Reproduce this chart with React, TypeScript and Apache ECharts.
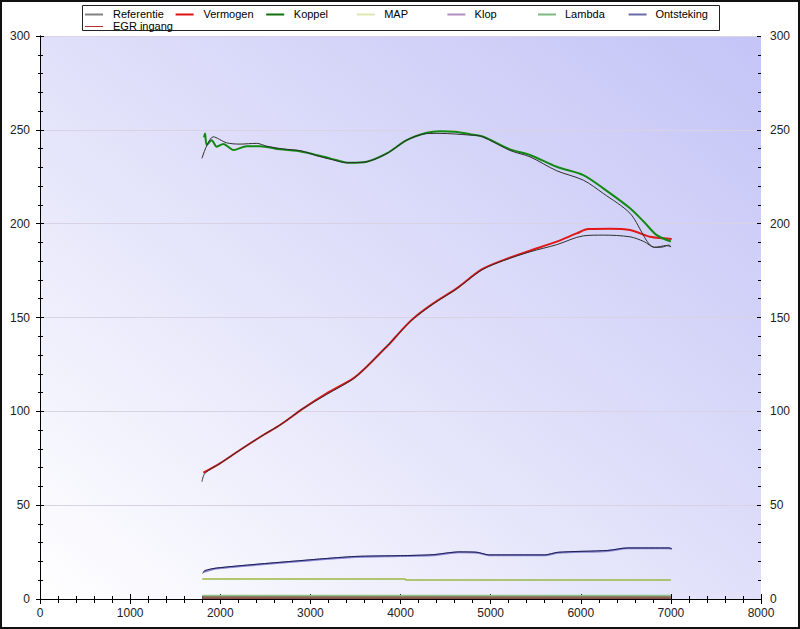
import React, { useEffect, useRef } from "react";
import * as echarts from "echarts";

// ---- data ----
const xTicks = [0, 1000, 2000, 3000, 4000, 5000, 6000, 7000, 8000];
const yTicks = [0, 50, 100, 150, 200, 250, 300];

const legendNames = ["Referentie", "Vermogen", "Koppel", "MAP", "Klop", "Lambda", "Ontsteking", "EGR ingang"];
const legendColors = ["#808080", "#dd1111", "#107010", "#dfe6b0", "#b48cc0", "#80b880", "#6a6aa8", "#c03030"];

const koppelRpm = [1820, 1831, 1850, 1905, 1961, 2034, 2100, 2145, 2293, 2441, 2663, 2848, 3033, 3218, 3440, 3625, 3847, 4069, 4291, 4438, 4600, 4771, 4919, 5215, 5437, 5733, 6028, 6250, 6547, 6700, 6843, 7000];
const koppelVal = [246, 248, 242, 244.5, 241, 242.4, 240.5, 239.2, 241.3, 241.3, 239.6, 238.8, 237, 234.8, 232.4, 233, 237.4, 244.5, 248.4, 249.3, 249, 247.7, 246.3, 239.6, 236.6, 230.3, 225.9, 218.8, 208.2, 201, 193.9, 190.5];

const refKoppelRpm = [1797, 1923, 2071, 2219, 2404, 2515, 2700, 2900, 3050, 3250, 3400, 3600, 3850, 4070, 4290, 4438, 4771, 4900, 5215, 5437, 5733, 6028, 6250, 6547, 6820, 6900, 6980, 7000];
const refKoppelVal = [234.8, 246.3, 243.1, 242.4, 242.8, 241.3, 239.8, 238.8, 236.5, 234, 232.5, 232.8, 237.4, 244.5, 248, 248.1, 247.2, 246.5, 239, 235.6, 228.2, 223.2, 216.1, 205.5, 187.4, 187.5, 188.6, 187.5];

const vermogenRpm = [1812, 1997, 2219, 2478, 2663, 2922, 3181, 3476, 3625, 3809, 3884, 4013, 4142, 4364, 4623, 4901, 5141, 5437, 5733, 5955, 6084, 6325, 6547, 6769, 6916, 7009];
const vermogenVal = [67.3, 72.3, 79.4, 87.4, 92.7, 101.6, 109.6, 117.6, 123.8, 132.7, 136.3, 143.3, 149.5, 157.5, 165.5, 175.6, 180.6, 185.6, 190.4, 194.8, 197.1, 197.3, 196.6, 193, 192.2, 191.8];

const refVermogenRpm = [1797, 1830, 2000, 2219, 2478, 2663, 2922, 3181, 3476, 3625, 3809, 4013, 4142, 4364, 4623, 4901, 5141, 5437, 5733, 6028, 6250, 6547, 6700, 6820, 6950, 7000];
const refVermogenVal = [62.5, 67, 72.3, 79.4, 87.4, 92.7, 101.6, 109, 117.3, 123.8, 132.7, 143, 149.3, 157.3, 165.3, 175.3, 180.3, 185, 188.8, 193.5, 193.9, 193, 190.5, 187.4, 188.3, 187.8];

const ontstekingRpm = [1820, 1960, 2400, 2800, 3100, 3500, 4000, 4350, 4650, 4850, 4980, 5600, 5750, 6300, 6520, 6980, 7010];
const ontstekingVal = [14.5, 16.2, 18.2, 19.8, 21.0, 22.4, 22.9, 23.3, 24.9, 24.7, 23.3, 23.3, 24.6, 25.6, 27, 27, 26.6];

const refOntstekingRpm = [1806, 1830, 1960, 2400, 2800, 3100, 3500, 4000, 4350, 4650, 4850, 4980, 5600, 5750, 6300, 6520, 6980, 7010];
const refOntstekingVal = [13.7, 15.2, 16.5, 18.5, 20.1, 21.3, 22.7, 23.1, 23.6, 25.1, 24.9, 23.5, 23.5, 24.9, 25.9, 27.2, 27.2, 26.8];

const mapRpm = [1800, 4050, 4060, 7000];
const mapVal = [10.6, 10.6, 10.1, 10.1];

const lambdaRpm = [1800, 7000];
const lambdaVal = [1.9, 1.9];

const klopRpm = [1800, 7000];
const klopVal = [0.2, 0.2];

const egrRpm = [1800, 7000];
const egrVal = [0.9, 0.9];

const pairs = (xs: number[], ys: number[]) => xs.map((x, i) => [x, ys[i]]);

const FONT = "'Liberation Sans', Arial, sans-serif";

export default function App() {
  const ref = useRef<HTMLDivElement>(null);

  useEffect(() => {
    document.body.style.margin = "0";
    const chart = echarts.init(ref.current!, undefined, { renderer: "svg" });

    const baseX = { type: "value", min: 0, max: 8000, interval: 1000 };
    const baseY = { type: "value", min: 0, max: 300, interval: 50 };

    const line = (name: string, data: number[][], color: string, width: number, z = 2, smooth: any = false) => ({
      type: "line",
      name,
      data,
      xAxisIndex: 0,
      yAxisIndex: 0,
      showSymbol: false,
      symbol: "none",
      smooth,
      lineStyle: { color, width },
      itemStyle: { color },
      z,
    });

    const legendEls: any[] = [
      {
        type: "rect",
        shape: { x: 82.5, y: 5.5, width: 637, height: 25 },
        style: { fill: "#ffffff", stroke: "#222222", lineWidth: 1 },
      },
    ];
    legendNames.forEach((n, i) => {
      const col = i % 7;
      const row = Math.floor(i / 7);
      const ly = 14 + row * 12;
      const lx = 85 + col * 90.6;
      legendEls.push({
        type: "line",
        shape: { x1: lx, y1: ly + 0.5, x2: lx + 18, y2: ly + 0.5 },
        style: { stroke: legendColors[i], lineWidth: i === 7 ? 1 : 2 },
      });
      legendEls.push({
        type: "text",
        x: 113 + col * 90.4,
        y: ly,
        style: {
          text: n,
          fill: "#000000",
          font: `11px ${FONT}`,
          textVerticalAlign: "middle",
          verticalAlign: "middle",
        },
      });
    });

    const fmt = (v: number) => String(v);

    const option: any = {
      animation: false,
      backgroundColor: "#ffffff",
      textStyle: { fontFamily: FONT },
      grid: {
        left: 40,
        right: 39,
        top: 36,
        bottom: 30,
        show: true,
        borderWidth: 0,
        backgroundColor: new echarts.graphic.LinearGradient(0, 1, 1, 0, [
          { offset: 0, color: "#ffffff" },
          { offset: 0.5, color: "#e0e0fa" },
          { offset: 1, color: "#c4c4f7" },
        ]),
      },
      xAxis: [
        {
          ...baseX,
          position: "bottom",
          axisLine: { show: true, lineStyle: { color: "#000", width: 1 } },
          axisTick: { show: true, inside: false, length: 5, lineStyle: { color: "#000" } },
          minorTick: { show: true, splitNumber: 5, length: 3, lineStyle: { color: "#000" } },
          axisLabel: { show: true, color: "#222", fontSize: 12, fontFamily: FONT, margin: 8, formatter: fmt, customValues: xTicks },
          splitLine: { show: false },
        },
        {
          ...baseX,
          position: "bottom",
          axisLine: { show: false },
          axisTick: { show: true, inside: true, length: 5, lineStyle: { color: "#000" } },
          minorTick: { show: true, splitNumber: 5, length: 3, lineStyle: { color: "#000" } },
          axisLabel: { show: false },
          splitLine: { show: false },
        },
        {
          ...baseX,
          position: "top",
          axisLine: { show: true, lineStyle: { color: "#000", width: 1 } },
          axisTick: { show: true, inside: true, length: 4, lineStyle: { color: "#000" } },
          minorTick: { show: true, splitNumber: 5, length: 4, lineStyle: { color: "#000" } },
          axisLabel: { show: false },
          splitLine: { show: false },
        },
      ],
      yAxis: [
        {
          ...baseY,
          position: "left",
          axisLine: { show: true, lineStyle: { color: "#000", width: 1 } },
          axisTick: { show: true, inside: false, length: 4, lineStyle: { color: "#000" } },
          minorTick: { show: true, splitNumber: 5, length: 2, lineStyle: { color: "#000" } },
          axisLabel: { show: true, color: "#222", fontSize: 12, fontFamily: FONT, margin: 10, formatter: fmt, customValues: yTicks },
          splitLine: { show: true, lineStyle: { color: "#d9d2e2", width: 1 } },
        },
        {
          ...baseY,
          position: "left",
          axisLine: { show: false },
          axisTick: { show: true, inside: true, length: 4, lineStyle: { color: "#000" } },
          minorTick: { show: true, splitNumber: 5, length: 3, lineStyle: { color: "#000" } },
          axisLabel: { show: false },
          splitLine: { show: false },
        },
        {
          ...baseY,
          position: "right",
          axisLine: { show: true, lineStyle: { color: "#000", width: 1 } },
          axisTick: { show: true, inside: false, length: 3, lineStyle: { color: "#000" } },
          minorTick: { show: true, splitNumber: 5, length: 1, lineStyle: { color: "#000" } },
          axisLabel: { show: true, color: "#222", fontSize: 12, fontFamily: FONT, margin: 9, formatter: fmt, customValues: yTicks },
          splitLine: { show: false },
        },
        {
          ...baseY,
          position: "right",
          axisLine: { show: false },
          axisTick: { show: true, inside: true, length: 4, lineStyle: { color: "#000" } },
          minorTick: { show: true, splitNumber: 5, length: 3, lineStyle: { color: "#000" } },
          axisLabel: { show: false },
          splitLine: { show: false },
        },
      ],
      series: [
        line("EGR ingang", pairs(egrRpm, egrVal), "#8e6454", 3, 2),
        line("Klop", pairs(klopRpm, klopVal), "#8a4a4a", 1, 2),
        line("Lambda", pairs(lambdaRpm, lambdaVal), "#8cc488", 1.5, 3),
        line("MAP", pairs(mapRpm, mapVal), "#9cb846", 1.5, 3),
        line("Ontsteking", pairs(ontstekingRpm, ontstekingVal), "#8484d0", 2, 3, 0.25),
        line("Vermogen", pairs(vermogenRpm, vermogenVal), "#e01818", 2, 3, 0.3),
        line("Koppel", pairs(koppelRpm, koppelVal), "#128a12", 2, 3, 0.3),
        line("Referentie", pairs(refOntstekingRpm, refOntstekingVal), "#1c1c50", 1, 4, 0.25),
        line("Referentie", pairs(refVermogenRpm, refVermogenVal), "#303030", 1, 4, 0.3),
        line("Referentie", pairs(refKoppelRpm, refKoppelVal), "#303030", 1, 4, 0.3),
      ],
      graphic: [
        {
          type: "rect",
          shape: { x: 1, y: 1, width: 798, height: 627 },
          style: { fill: "none", stroke: "#111111", lineWidth: 2 },
          z: 100,
        },
        { type: "group", z: 100, children: legendEls },
      ],
    };

    chart.setOption(option);
    return () => chart.dispose();
  }, []);

  return <div ref={ref} style={{ width: 800, height: 629 }} />;
}
